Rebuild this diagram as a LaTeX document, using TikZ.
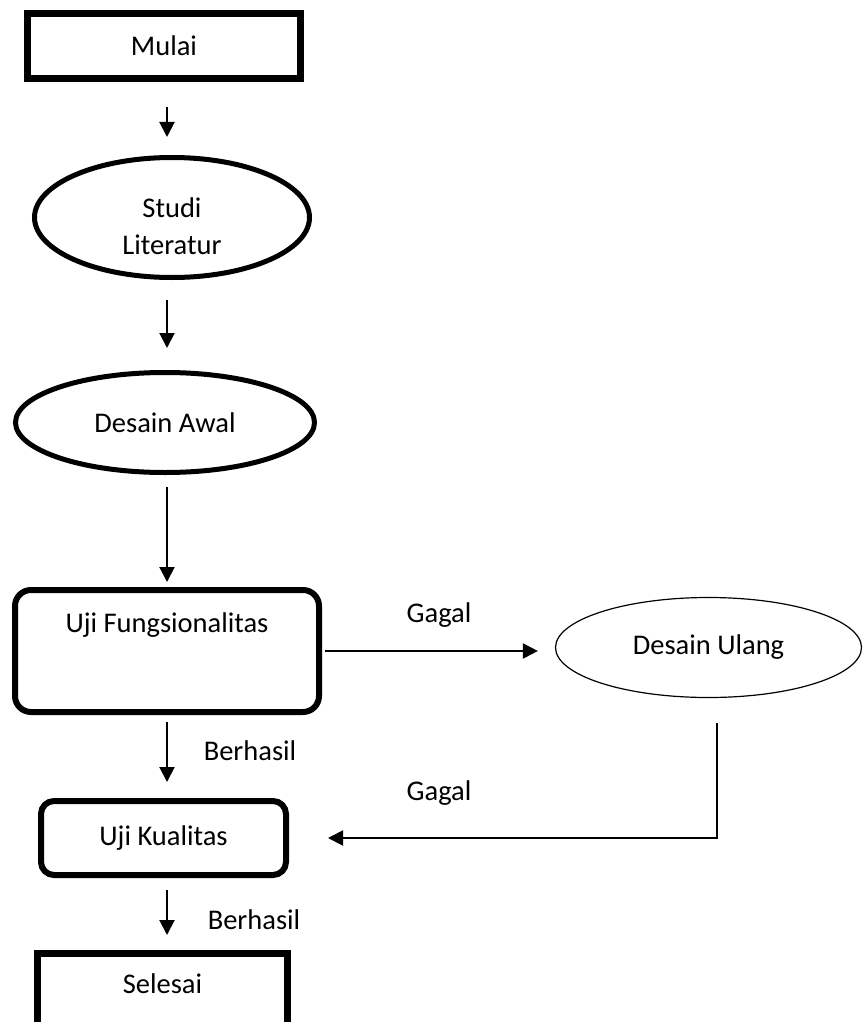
\documentclass[tikz,border=0pt]{standalone}
\usepackage{fontspec}
\setmainfont{Carlito}
\usetikzlibrary{positioning, arrows.meta, shapes.geometric, calc}

\begin{document}
\begin{tikzpicture}[
  x=1pt, y=-1pt,
  every node/.style={font=\fontsize{28.5}{37}\selectfont, text=black},
  ujung/.style={rectangle, draw=black, line width=7pt,
              align=center, inner sep=0pt},
  elips/.style={ellipse, draw=black, line width=5pt,
              align=center, inner sep=0pt},
  elipstipis/.style={ellipse, draw=black, line width=1.2pt,
              align=center, inner sep=0pt},
  uji/.style={rectangle, rounded corners=16pt, draw=black, line width=6pt,
              align=center, inner sep=0pt},
  panah/.style={-{Triangle[length=15pt, width=15pt]}, black, line width=2pt},
  ket/.style={anchor=base, inner sep=0pt},
]
  % ═══ Canvas: same size as the page ═══
  \useasboundingbox (0,0) rectangle (863,1022);

  % Axis of the main column: all vertical arrows sit on x=167
  \coordinate (sumbu) at (167,0);
  \coordinate (belok) at (717,838);

  % ═══ Main column ═══
  \node[ujung, minimum width=273pt, minimum height=65pt]
        at (164,46) (mulai) {Mulai};
  \node[elips, minimum width=275pt, minimum height=120pt, text height=75pt]
        at (172,217.5) (studi) {Studi\\Literatur};
  \node[elips, minimum width=299pt, minimum height=100pt]
        at (165,422.5) (awal) {Desain Awal};
  \node[uji, minimum width=304pt, minimum height=122pt, text depth=56pt]
        at (167,651) (fungsi) {Uji Fungsionalitas};
  \node[uji, rounded corners=13pt, minimum width=245pt, minimum height=74pt]
        at (163.5,838) (kualitas) {Uji Kualitas};
  \node[ujung, minimum width=250pt, minimum height=72.5pt, text depth=12pt]
        at (162.5,989.75) (selesai) {Selesai};

  % ═══ Side branch: redesign ═══
  \node[elipstipis, minimum width=306pt, minimum height=100pt]
        at (708.5,647.5) (ulang) {Desain Ulang};

  % Labels on the connectors
  \node[ket] at (439,622) (gagalA) {Gagal};
  \node[ket] at (439,800) (gagalB) {Gagal};
  \node[ket] at (250,760) (berhasilA) {Berhasil};
  \node[ket] at (254,929) (berhasilB) {Berhasil};

  % ═══ Arrows down the main column ═══
  \draw[panah, shorten <=25pt, shorten >=18pt]
        (mulai.south -| sumbu) -- (studi.north -| sumbu);
  \draw[panah, shorten <=20pt, shorten >=22pt]
        (studi.south -| sumbu) -- (awal.north -| sumbu);
  \draw[panah, shorten <=12pt, shorten >=5pt]
        (awal.south -| sumbu) -- (fungsi.north -| sumbu);
  \draw[panah, shorten <=7pt, shorten >=16pt]
        (fungsi.south -| sumbu) -- (kualitas.north -| sumbu);
  \draw[panah, shorten <=12pt, shorten >=15pt]
        (kualitas.south -| sumbu) -- (selesai.north -| sumbu);

  % Gagal: out to redesign, then back into the quality test
  \draw[panah, shorten <=3pt, shorten >=17pt]
        (fungsi.east) -- (fungsi.east -| ulang.west);
  \draw[panah, shorten <=25pt, shorten >=39pt]
        (ulang.south -| belok) -- (belok) -- (kualitas.east);
\end{tikzpicture}
\end{document}
